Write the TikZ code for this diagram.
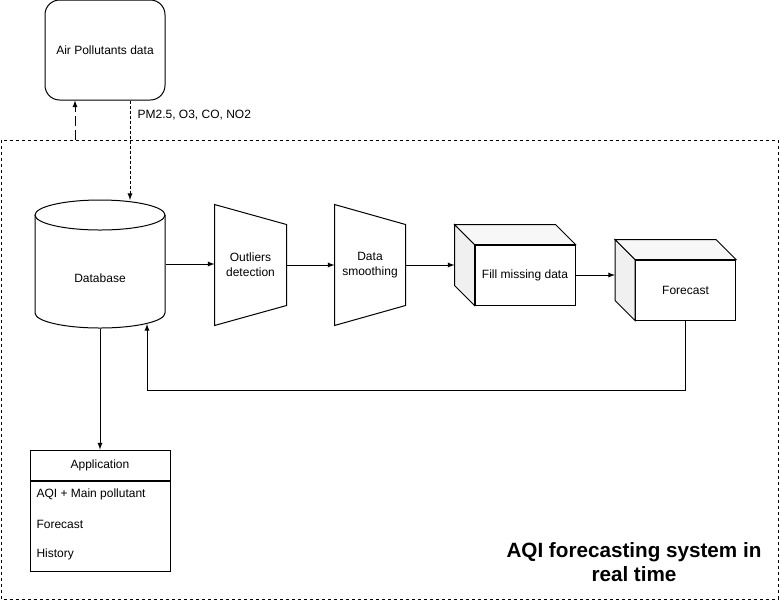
\documentclass[tikz,border=0pt]{standalone}
\usepackage{fontspec}
\setmainfont{Liberation Sans}
\usetikzlibrary{calc}

\tikzset{
  stage/.style={inner sep=0pt, minimum height=90pt, align=center},
  cubefront/.style={draw, fill=white, inner sep=0pt, minimum width=75pt, minimum height=45pt},
  frame/.style={dash pattern=on 2.25pt off 2.25pt},
  request/.style={-latex, dash pattern=on 7.5pt off 3pt},
  feed/.style={-latex, dash pattern=on 2.25pt off 1.5pt},
  item/.style={anchor=west, inner sep=0pt}
}

\begin{document}
\begin{tikzpicture}[x=0.75pt, y=-0.75pt, line width=0.75pt, font=\fontsize{9}{11}\selectfont]
      \useasboundingbox (0,0) rectangle (781,601);

      % system frame
      \draw[frame] (1,140) rectangle (778,599);
      \node[font=\fontsize{15.5}{17.5}\selectfont\bfseries, align=center] (title) at (634,562) {AQI forecasting system in\\real time};

      % data source
      \node[draw, rounded corners=11pt, minimum width=90pt, minimum height=75pt] (air) at (105,50) {Air Pollutants data};
      \coordinate (req) at (75,140);
      \coordinate (dbtop) at (130,200);
      \draw[request] (req) -- (req |- air.south);
      \draw[feed] (air.south -| dbtop) -- (dbtop) node[pos=.15, right, xshift=2pt] {PM2.5, O3, CO, NO2};

      % database
      \draw (35,215) -- (35,313) arc[start angle=180, end angle=360, x radius=48.75pt, y radius=11.25pt] -- (165,215);
      \draw (100,215) ellipse [x radius=48.75pt, y radius=11.25pt];
      \node[inner sep=0pt, minimum width=97.5pt, minimum height=96pt] (db) at (100,264) {};
      \node (dbtext) at (100,278) {Database};

      % processing stages
      \node[stage, minimum width=53.25pt] (outl) at (250.5,265) {Outliers\\detection};
      \draw (outl.north west) -- ($(outl.north east)+(0,20)$) -- ($(outl.south east)+(0,-20)$) -- (outl.south west) -- cycle;

      \node[stage, minimum width=52.5pt] (smooth) at (370,265) {Data\\smoothing};
      \draw (smooth.north west) -- ($(smooth.north east)+(0,20)$) -- ($(smooth.south east)+(0,-20)$) -- (smooth.south west) -- cycle;

      \node[cubefront] (fill) at (525,275) {Fill missing data};
      \draw[fill=gray!12] (fill.north west) -- ++(-20,-20) -- ($(fill.south west)+(-20,-20)$) -- (fill.south west) -- cycle;
      \draw[fill=gray!6] (fill.north west) -- ++(-20,-20) -- ($(fill.north east)+(-20,-20)$) -- (fill.north east) -- cycle;
      \coordinate (fillleft) at ($(fill.west)+(-20,0)$);

      \node[cubefront] (fcst) at (685.5,290) {Forecast};
      \draw[fill=gray!12] (fcst.north west) -- ++(-20,-20) -- ($(fcst.south west)+(-20,-20)$) -- (fcst.south west) -- cycle;
      \draw[fill=gray!6] (fcst.north west) -- ++(-20,-20) -- ($(fcst.north east)+(-20,-20)$) -- (fcst.north east) -- cycle;
      \coordinate (fcstleft) at ($(fcst.west)+(-20,0)$);

      \draw[-latex] (db.east) -- (db.east -| outl.west);
      \draw[-latex] (outl.east) -- (smooth.west);
      \draw[-latex] (smooth.east) -- (smooth.east -| fillleft);
      \draw[-latex] (fill.east) -- (fill.east -| fcstleft);

      % back to the database
      \coordinate (loop) at (147,390);
      \coordinate (dbin) at (147,324);
      \draw[-latex] (fcst.south) |- (loop) -- (dbin);

      % application
      \node[draw, inner sep=0pt, minimum width=105pt, minimum height=22.5pt] (app) at (100,465) {Application};
      \node[draw, inner sep=0pt, minimum width=105pt, minimum height=67.5pt, anchor=north] (appbody) at (app.south) {};
      \node[item] (aqi) at (36,494) {AQI + Main pollutant};
      \node[item] (appfc) at (36,524) {Forecast};
      \node[item] (hist) at (36,554) {History};
      \draw[-latex] (db.south) -- (app.north);

\end{tikzpicture}
\end{document}
